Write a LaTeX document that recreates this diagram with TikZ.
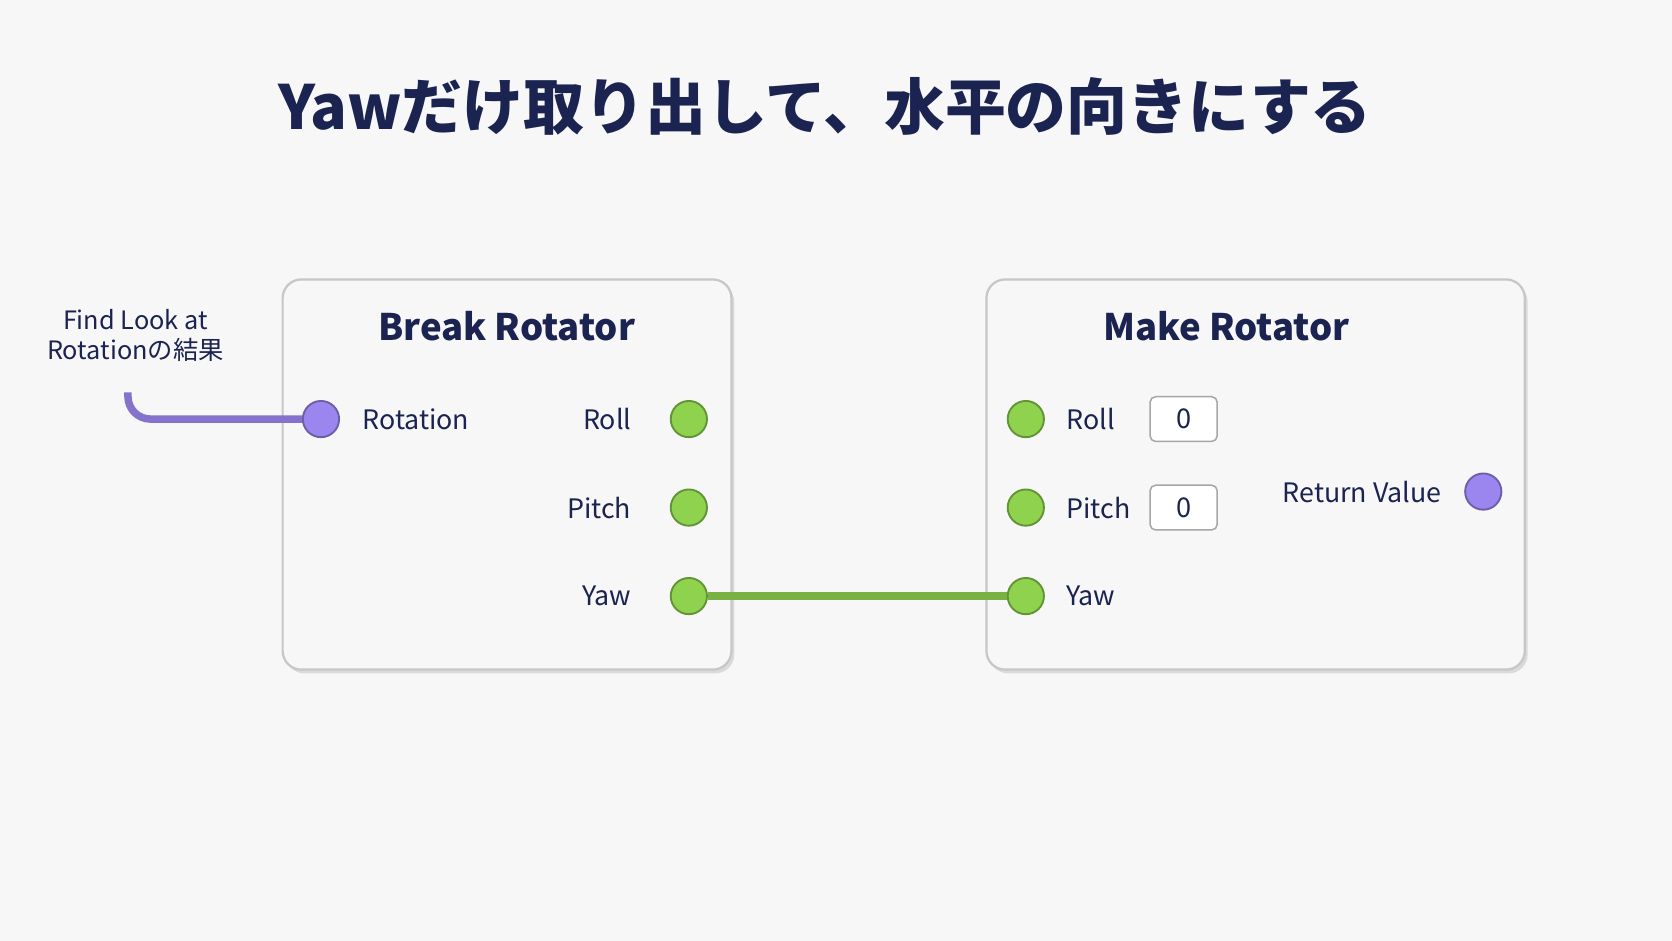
\documentclass[tikz,border=0pt]{standalone}
\usepackage{fontspec}
\setmainfont{Noto Sans CJK JP}
\usetikzlibrary{positioning,shadows}
\definecolor{navy}{HTML}{1B2350}
\definecolor{pinpurple}{HTML}{9B86F0}
\definecolor{pingreen}{HTML}{8ED24E}
\definecolor{bgcol}{HTML}{F7F7F8}
\begin{document}
\begin{tikzpicture}[x=0.02cm, y=-0.02cm,
    panel/.style={rectangle, rounded corners=10pt, draw=black!22, line width=1.2pt, fill=bgcol,
      drop shadow={shadow xshift=1.5pt, shadow yshift=-2pt, fill=black!25, opacity=0.5}},
    head/.style={font=\fontsize{19.5}{23}\selectfont\bfseries, text=navy},
    pinlbl/.style={font=\fontsize{14.3}{17}\selectfont, text=navy},
    greenpin/.style={circle, minimum size=0.68cm, inner sep=0pt, fill=pingreen, draw=pingreen!70!black, line width=1pt},
    purplepin/.style={circle, minimum size=0.68cm, inner sep=0pt, fill=pinpurple, draw=pinpurple!70!black, line width=1pt},
    valbox/.style={rectangle, rounded corners=3pt, draw=black!35, line width=0.8pt, fill=white,
      minimum width=1.26cm, minimum height=0.84cm, font=\fontsize{14.5}{17}\selectfont, text=navy}]

  % background and bounds
  \fill[bgcol] (0,0) rectangle (1568,882);
  \useasboundingbox (0,0) rectangle (1568,882);

  % title
  \node[font=\fontsize{32.5}{36}\selectfont\bfseries, text=navy] (title) at (774,100) {Yawだけ取り出して、水平の向きにする};

  % panels
  \node[panel, minimum width=8.42cm, minimum height=7.32cm] (brk) at (475.5,445) {};
  \node[panel, minimum width=10.1cm, minimum height=7.32cm] (mk) at (1177.5,445) {};
  \node[head] (brkhead) at (475,306) {Break Rotator};
  \node[head] (mkhead) at (1150,306) {Make Rotator};

  % break rotator pins
  \node[purplepin] (rotin) at (301,393) {};
  \node[pinlbl, right=0.3cm of rotin] (rotlbl) {Rotation};
  \node[greenpin] (rollout) at (646,393) {};
  \node[greenpin] (pitchout) at (646,476) {};
  \node[greenpin] (yawout) at (646,559) {};
  \node[pinlbl, left=0.6cm of rollout] (rolllbl) {Roll};
  \node[pinlbl, left=0.6cm of pitchout] (pitchlbl) {Pitch};
  \node[pinlbl, left=0.6cm of yawout] (yawlbl) {Yaw};

  % make rotator pins
  \node[greenpin] (rollin) at (962,393) {};
  \node[greenpin] (pitchin) at (962,476) {};
  \node[greenpin] (yawin) at (962,559) {};
  \node[pinlbl, right=0.28cm of rollin] (rollinlbl) {Roll};
  \node[pinlbl, right=0.28cm of pitchin] (pitchinlbl) {Pitch};
  \node[pinlbl, right=0.28cm of yawin] (yawinlbl) {Yaw};
  \node[valbox] (rollval) at (1110,393) {0};
  \node[valbox] (pitchval) at (1110,476) {0};
  \node[purplepin] (retout) at (1391,461) {};
  \node[pinlbl, left=0.3cm of retout] (retlbl) {Return Value};

  % source label
  \node[font=\fontsize{13.5}{16}\selectfont, text=navy, align=center] (src) at (127,315) {Find Look at\\Rotationの結果};
  \coordinate (srcend) at (120,368);

  % wires
  \draw[pinpurple!85!black, line width=4pt, rounded corners=12pt] (srcend) |- (rotin.west);
  \draw[pingreen!85!black, line width=4.5pt] (yawout.east) -- (yawin.west);

\end{tikzpicture}
\end{document}
